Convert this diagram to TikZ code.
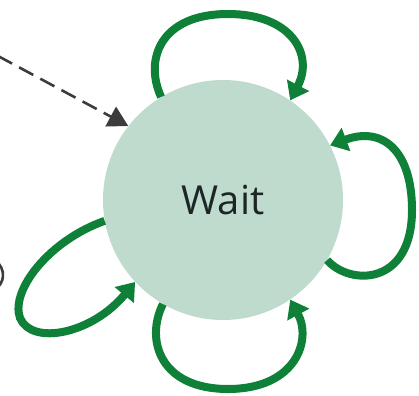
\documentclass[tikz,border=0pt]{standalone}
\usepackage{fontspec}
\setmainfont{Open Sans}
\usetikzlibrary{arrows.meta}
\definecolor{waitfill}{RGB}{191,219,206}
\definecolor{loopgreen}{RGB}{14,128,56}
\definecolor{textdark}{RGB}{28,38,38}
\definecolor{dashgray}{RGB}{60,60,60}
\tikzset{
  statenode/.style={circle, fill=waitfill, minimum size=240pt, inner sep=0pt,
    text=textdark, font=\fontsize{40}{48}\selectfont},
  selfloop/.style={draw=loopgreen, line width=8pt,
    -{Triangle[width=24pt,length=17pt]}},
  entryarrow/.style={draw=dashgray, line width=2.6pt, dash pattern=on 16pt off 8pt,
    -{Triangle[width=22pt,length=20pt]}},
  partialnode/.style={draw=dashgray, line width=2.6pt}
}
\begin{document}
\begin{tikzpicture}[x=1pt, y=-1pt]
  \useasboundingbox (0,0) rectangle (419,395);

  % the state
  \node[statenode] (wait) at (223,200) {Wait};

  % incoming transition from the left
  \coordinate (entry) at (-2,56);
  \path[entryarrow] (entry) -- (wait.142);

  % edge of a neighbouring state, cut by the border
  \draw[partialnode] (-14,275) ++(-55:17) arc[start angle=-55, end angle=55, radius=17];

  % self transitions
  \path[selfloop] (wait.121) .. controls (144,60) and (160,14) .. (228,14)
                   .. controls (292,14) and (314,55) .. (wait.56);
  \path[selfloop] (wait.-30) .. controls (350,286) and (412,286) .. (412,210)
                   .. controls (412,150) and (382,126) .. (wait.27);
  \path[selfloop] (wait.-120) .. controls (145,340) and (160,389) .. (228,389)
                   .. controls (296,389) and (312,340) .. (wait.-56);
  \path[selfloop] (wait.190) .. controls (50,240) and (10,290) .. (20,318)
                   .. controls (32,346) and (92,334) .. (wait.223);
\end{tikzpicture}
\end{document}
